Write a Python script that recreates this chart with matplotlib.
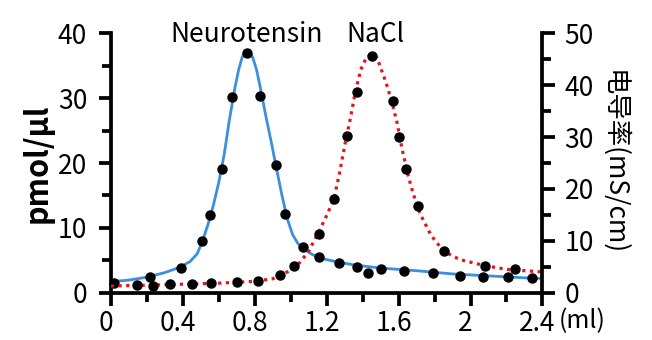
import numpy as np
import matplotlib
matplotlib.use("Agg")
import matplotlib.pyplot as plt
import matplotlib.transforms as mtransforms
from matplotlib.ticker import MultipleLocator

plt.rcParams['font.family'] = ['Noto Sans CJK SC', 'DejaVu Sans']

# measured points, Neurotensin (left axis, pmol/ul)
nt_x = [0.02, 0.22, 0.39, 0.505, 0.55, 0.62, 0.672, 0.755, 0.83, 0.92, 0.97, 1.07,
        1.16, 1.27, 1.37, 1.43, 1.50, 1.63, 1.79, 1.94, 2.07, 2.21, 2.34]
nt_y = [1.5, 2.5, 3.8, 8.0, 12.0, 19.1, 30.2, 36.9, 30.4, 19.7, 12.1, 7.05,
        5.5, 4.6, 3.9, 3.0, 3.7, 3.35, 3.0, 2.6, 2.5, 2.47, 2.27]

# fitted curve, Neurotensin
nt_fit_x = [0.0, 0.1, 0.2, 0.3, 0.38, 0.44, 0.48, 0.51, 0.54, 0.57, 0.60, 0.63, 0.66,
            0.69, 0.71, 0.73, 0.745, 0.76, 0.775, 0.79, 0.81, 0.83, 0.86, 0.89, 0.92,
            0.95, 0.98, 1.01, 1.04, 1.08, 1.12, 1.17, 1.25, 1.35, 1.5, 1.7, 1.9, 2.1,
            2.3, 2.4]
nt_fit_y = [1.7, 1.95, 2.4, 3.1, 3.9, 4.8, 6.0, 8.0, 10.5, 13.5, 17.0, 21.3, 26.8,
            31.6, 34.3, 36.3, 37.1, 37.3, 37.0, 36.2, 34.4, 31.8, 27.5, 23.5, 19.3,
            15.2, 11.5, 9.0, 7.6, 6.6, 5.9, 5.3, 4.8, 4.3, 3.8, 3.4, 2.9, 2.6,
            2.3, 2.2]

# measured points, NaCl (right axis, mS/cm)
na_x = [0.146, 0.235, 0.33, 0.45, 0.556, 0.70, 0.816, 0.94, 1.02, 1.16, 1.24, 1.315,
        1.367, 1.45, 1.57, 1.60, 1.64, 1.71, 1.85, 2.08, 2.25]
na_y = [1.43, 1.35, 1.68, 1.73, 1.81, 2.06, 2.25, 3.5, 5.2, 11.3, 18.0, 30.3,
        38.7, 45.6, 36.9, 30.1, 23.8, 16.7, 8.0, 5.2, 4.6]

# fitted curve, NaCl
na_fit_x = [0.0, 0.2, 0.4, 0.6, 0.8, 0.9, 0.95, 1.0, 1.05, 1.10, 1.16, 1.20, 1.24,
            1.27, 1.30, 1.33, 1.36, 1.39, 1.42, 1.45, 1.48, 1.50, 1.53, 1.56, 1.59,
            1.62, 1.65, 1.68, 1.72, 1.78, 1.85, 1.94, 2.07, 2.2, 2.4]
na_fit_y = [1.3, 1.45, 1.65, 1.85, 2.2, 2.7, 3.4, 4.4, 5.8, 8.0, 12.0, 14.9, 18.0,
            22.8, 28.3, 33.3, 38.8, 43.0, 45.3, 46.0, 45.3, 43.4, 40.5, 37.1, 33.0,
            27.6, 23.0, 19.2, 15.2, 11.1, 8.0, 6.4, 5.3, 4.5, 4.0]

x_ticks = [0, 0.4, 0.8, 1.2, 1.6, 2.0, 2.4]
x_labels = ['0', '0.4', '0.8', '1.2', '1.6', '2', '2.4']

fig = plt.figure(figsize=(6.52, 3.40), dpi=100)
ax = fig.add_axes([0.170, 0.139, 0.662, 0.763])
ax2 = ax.twinx()

blue = '#3b8fdd'
red = '#e5141c'

ax.plot(nt_fit_x, nt_fit_y, color=blue, lw=2.0, zorder=2)
ax.plot(nt_x, nt_y, 'o', color='black', ms=6.5, zorder=3, clip_on=False)
ax2.plot(na_fit_x, na_fit_y, color=red, lw=2.3, ls=(0, (1, 1.4)), zorder=2)
ax2.plot(na_x, na_y, 'o', color='black', ms=6.5, zorder=3, clip_on=False)

ax.set_xlim(0, 2.4)
ax.set_ylim(0, 40)
ax2.set_ylim(0, 50)

ax.set_xticks(x_ticks)
ax.set_xticklabels(x_labels)
ax.xaxis.set_minor_locator(MultipleLocator(0.2))
ax.yaxis.set_major_locator(MultipleLocator(10))
ax.yaxis.set_minor_locator(MultipleLocator(5))
ax2.yaxis.set_major_locator(MultipleLocator(10))
ax2.yaxis.set_minor_locator(MultipleLocator(5))

for a in (ax, ax2):
    a.spines['top'].set_visible(False)
    for s in a.spines.values():
        s.set_linewidth(2.7)
    a.tick_params(which='major', length=9, width=2.7, labelsize=19)
    a.tick_params(which='minor', length=6.5, width=2.7)
ax.tick_params(axis='x', pad=3.5)
ax.tick_params(axis='y', pad=8)
ax2.tick_params(axis='y', pad=7)
ax.spines['right'].set_visible(False)
ax2.spines['left'].set_visible(False)
ax2.spines['bottom'].set_visible(False)

# x tick labels sit slightly left of their ticks in the original
shift = mtransforms.ScaledTranslation(-5 / 100, 0, fig.dpi_scale_trans)
for lab in ax.get_xticklabels():
    lab.set_transform(lab.get_transform() + shift)

ax.set_ylabel('pmol/µl', fontsize=22, fontweight='bold', labelpad=3)
ax2.set_ylabel('电导率(mS/cm)', fontsize=19, rotation=270, labelpad=24)

ax.annotate('(ml)', xy=(1, 0), xycoords='axes fraction', xytext=(12, -25.5),
            textcoords='offset points', ha='left', va='baseline', fontsize=18)

ax.text(0.757, 38.6, 'Neurotensin', ha='center', va='baseline', fontsize=19)
ax.text(1.47, 38.6, 'NaCl', ha='center', va='baseline', fontsize=19)

fig.savefig('out.png', dpi=100)
